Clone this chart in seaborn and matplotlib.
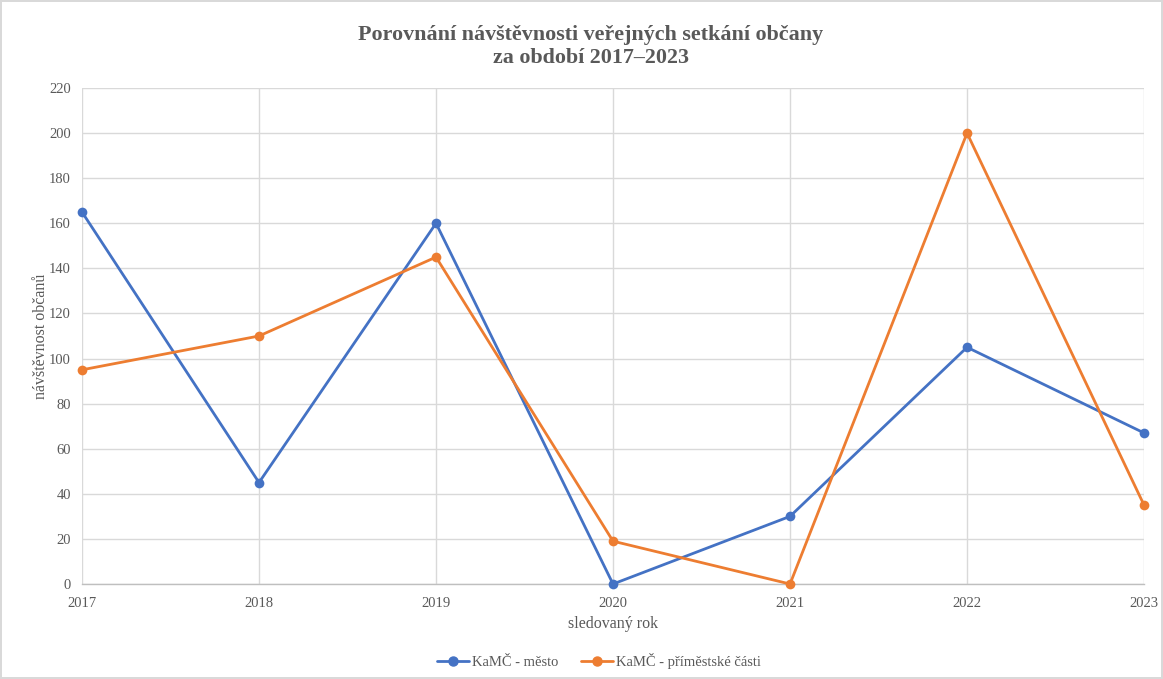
import matplotlib
matplotlib.use("Agg")
import matplotlib.pyplot as plt
import seaborn as sns
import pandas as pd

years = [2017, 2018, 2019, 2020, 2021, 2022, 2023]
mesto = [165, 45, 160, 0, 30, 105, 67]
primestske = [95, 110, 145, 19, 0, 200, 35]
series_names = ["KaMČ - město", "KaMČ - příměstské části"]
colors = ["#4472C4", "#ED7D31"]
yticks = list(range(0, 221, 20))

df = pd.DataFrame({
    "rok": years * 2,
    "hodnota": mesto + primestske,
    "serie": [series_names[0]] * len(years) + [series_names[1]] * len(years),
})

sns.set_theme(style="white")
plt.rcParams['font.family'] = ['Liberation Serif', 'DejaVu Serif']
txt = "#595959"

fig = plt.figure(figsize=(11.63, 6.79), dpi=100, edgecolor="#d9d9d9", linewidth=1.5)
ax = fig.add_axes([0.0705, 0.1399, 0.9132, 0.7305])

sns.lineplot(data=df, x="rok", y="hodnota", hue="serie", palette=colors,
             marker="o", markersize=7, markeredgewidth=0, linewidth=2,
             ax=ax, legend=False, zorder=3)
for l in ax.lines:
    l.set_clip_on(False)

ax.set_xlim(2017, 2023)
ax.set_ylim(0, 220)
ax.set_xticks(years)
ax.set_yticks(yticks)
ax.grid(True, color="#d9d9d9", linewidth=1)
ax.set_axisbelow(True)
for s in ["top", "right", "left"]:
    ax.spines[s].set_visible(False)
ax.spines["bottom"].set_color("#bfbfbf")
ax.spines["bottom"].set_linewidth(1)
ax.tick_params(axis="both", length=0, labelsize=10.5, colors=txt, pad=8)
ax.tick_params(axis="x", pad=9)

ax.set_xlabel("sledovaný rok", fontsize=11.5, color=txt, labelpad=5)
ax.set_ylabel("návštěvnost občanů", fontsize=11.5, color=txt, labelpad=0)

fig.text(0.508, 0.932, "Porovnání návštěvnosti veřejných setkání občany\nza období 2017–2023",
         ha="center", va="center", fontsize=15.8, fontweight="bold", color=txt, linespacing=1.22)

from matplotlib.lines import Line2D
handles = [Line2D([0], [0], color=c, lw=2, marker="o", markersize=6.5) for c in colors]
fig.legend(handles, series_names, loc="center", bbox_to_anchor=(0.515, 0.026), ncol=2,
           frameon=False, fontsize=10.5, labelcolor=txt, handlelength=2.2,
           handletextpad=0.2, columnspacing=1.5)

fig.savefig("out.png", dpi=100, edgecolor=fig.get_edgecolor())
